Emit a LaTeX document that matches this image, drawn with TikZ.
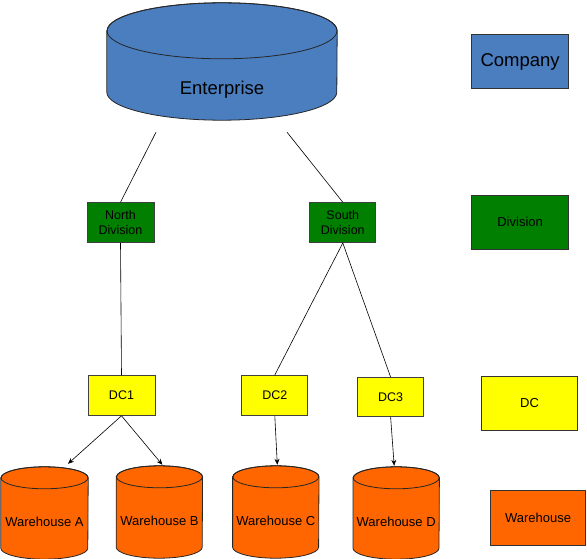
\documentclass[tikz,border=0pt]{standalone}
\usepackage{fontspec}
\setmainfont{Liberation Sans}
\usetikzlibrary{positioning,arrows.meta,calc,backgrounds}
\definecolor{entblue}{HTML}{4A7EBF}
\definecolor{divgreen}{HTML}{007F00}
\definecolor{dcyellow}{HTML}{FFFF00}
\definecolor{whorange}{HTML}{FF6600}
% barrel outline round a node: name, fill, x radius, y radius
\newcommand\drawbarrel[4]{%
  \filldraw[fill=#2,draw=black!85,line width=0.8pt]
    ($(#1.north west)+(0,-#4)$) -- ($(#1.south west)+(0,#4)$)
    arc[start angle=180,end angle=360,x radius=#3,y radius=#4]
    -- ($(#1.north east)+(0,-#4)$)
    arc[start angle=0,end angle=180,x radius=#3,y radius=#4] -- cycle;
  \draw[black!85,line width=0.8pt] ($(#1.north)+(0,-#4)$) ellipse[x radius=#3,y radius=#4];
}

\begin{document}
\begin{tikzpicture}[
barrel/.style={rectangle,minimum width=86pt,minimum height=92pt,inner sep=0pt},
wtext/.style={font=\fontsize{13}{15}\selectfont,yshift=-9pt},
divbox/.style={rectangle,draw=black!75,line width=0.8pt,fill=divgreen,align=center,minimum width=67pt,minimum height=40pt,inner sep=0pt,font=\fontsize{12.5}{15.5}\selectfont},
dcbox/.style={rectangle,draw=black!75,line width=0.8pt,fill=dcyellow,minimum width=67pt,minimum height=40pt,inner sep=0pt,font=\fontsize{12.5}{15}\selectfont},
legbox/.style={rectangle,draw=black!80,line width=0.8pt,minimum width=97pt,minimum height=54pt,inner sep=0pt,font=\fontsize{13}{15}\selectfont},
link/.style={line width=0.6pt},
arrow/.style={-{Stealth[length=6pt,width=5pt]},line width=0.6pt}
]
\useasboundingbox (0,0) rectangle (587pt,-559pt);
\node[barrel,minimum width=230pt,minimum height=117pt,
  label={[font=\fontsize{18.5}{21}\selectfont,yshift=-28.5pt]center:Enterprise}] (ent) at (222pt,-61.5pt) {};
\node[divbox,below=82pt of ent,xshift=-101.5pt] (north) {North\\Division};
\node[divbox,right=155pt of north,minimum width=66pt] (south) {South\\Division};
\node[dcbox,below=132pt of north,xshift=1pt] (dc1) {DC1};
\node[dcbox,right=86pt of dc1,minimum width=66pt] (dc2) {DC2};
\node[dcbox,right=49pt of dc2,yshift=-1.5pt,minimum width=66pt,minimum height=39pt] (dc3) {DC3};
\node[barrel,below=51pt of dc1,xshift=-77pt,minimum width=87pt,label={[wtext]center:Warehouse A}] (wa) {};
\node[barrel,right=28pt of wa,yshift=1pt,label={[wtext]center:Warehouse B}] (wb) {};
\node[barrel,right=30pt of wb,label={[wtext]center:Warehouse C}] (wc) {};
\node[barrel,right=34pt of wc,yshift=-1pt,label={[wtext]center:Warehouse D}] (wd) {};
% barrels behind their labels
\begin{scope}[on background layer]
\drawbarrel{ent}{entblue}{115pt}{28pt}
\drawbarrel{wa}{whorange}{43.5pt}{11pt}
\drawbarrel{wb}{whorange}{43pt}{11pt}
\drawbarrel{wc}{whorange}{43pt}{11pt}
\drawbarrel{wd}{whorange}{43pt}{11pt}
\end{scope}
% legend
\node[legbox,fill=entblue,right=134pt of ent,font=\fontsize{18.5}{21}\selectfont] (comp) {Company};
\node[legbox,fill=divgreen,below=106pt of comp] (divl) {Division};
\node[legbox,fill=dcyellow,below=126pt of divl,xshift=9.5pt,minimum width=96pt] (dcl) {DC};
\node[legbox,fill=whorange,below=59pt of dcl,xshift=8.5pt,minimum width=95pt,minimum height=55pt] (whl) {Warehouse};
% links
\draw[link] ($(ent.south)+(-66pt,-12pt)$) -- (north.north);
\draw[link] ($(ent.south)+(65pt,-12pt)$) -- (south.north);
\draw[link] (north.south) -- (dc1.north);
\draw[link] (south.south) -- (dc2.north);
\draw[link] (south.south) -- (dc3.north);
\draw[arrow] (dc1.south) -- ($(wa.north)+(23.5pt,3pt)$);
\draw[arrow] (dc1.south) -- ($(wb.north)+(3pt,1pt)$);
\draw[arrow] (dc2.south) -- ($(wc.north)+(1.5pt,1pt)$);
\draw[arrow] (dc3.south) -- ($(wd.north)+(-2pt,1pt)$);
\end{tikzpicture}
\end{document}
